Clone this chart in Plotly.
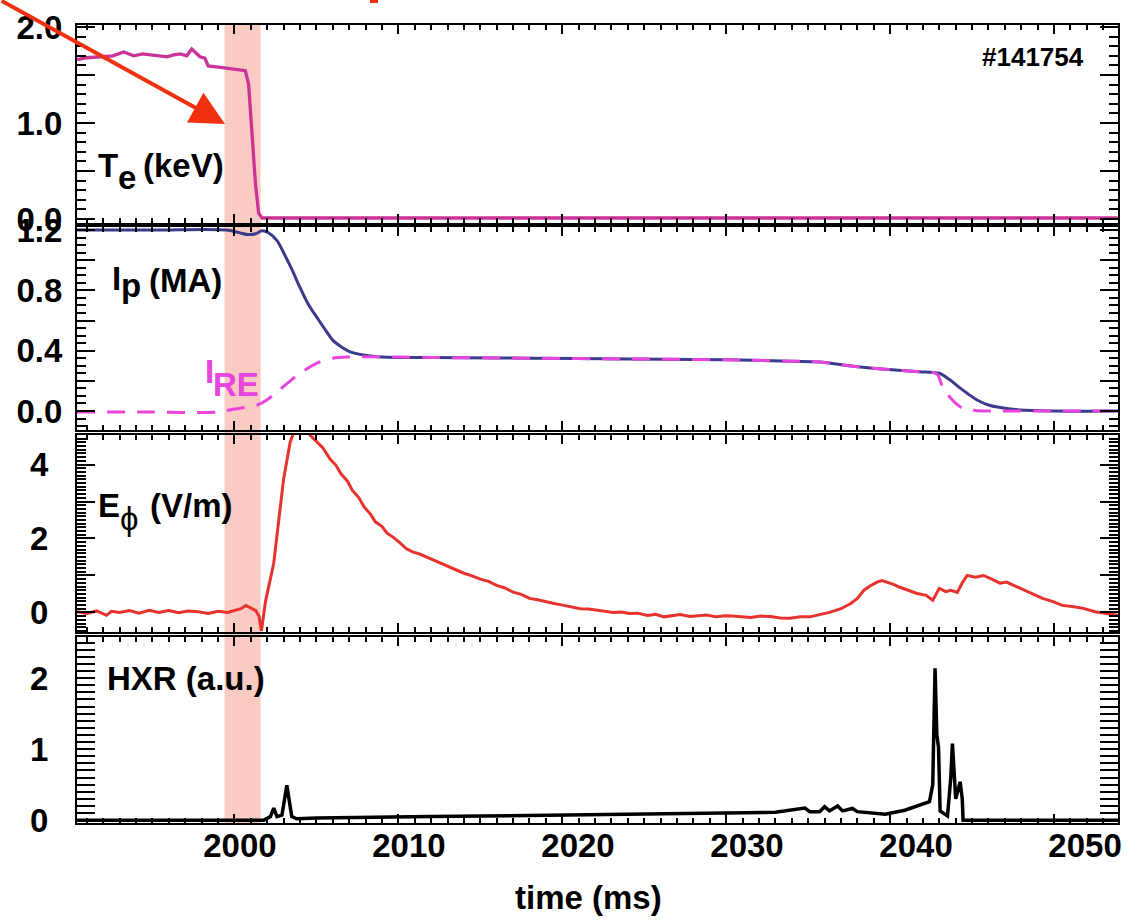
import plotly.graph_objects as go

# ---------------- data ----------------
te_t = [1990.41, 1991.0, 1991.83, 1992.6, 1993.25, 1993.86, 1994.4, 1994.88, 1995.4, 1995.9,
        1996.3, 1996.7, 1997.1, 1997.4, 1997.9, 1998.2, 1998.4, 1998.8, 1999.15, 1999.6,
        1999.96, 2000.3, 2000.67, 2000.87, 2000.98, 2001.14, 2001.28, 2001.48, 2001.69,
        2003.0, 2010.0, 2020.0, 2030.0, 2040.0, 2053.9]
te_v = [1.66, 1.68, 1.69, 1.70, 1.74, 1.70, 1.72, 1.71, 1.70, 1.69,
        1.71, 1.72, 1.70, 1.77, 1.69, 1.675, 1.595, 1.59, 1.58, 1.57,
        1.56, 1.555, 1.545, 1.40, 1.08, 0.73, 0.38, 0.06, 0.01,
        0.01, 0.01, 0.01, 0.01, 0.01, 0.01]

ip_t = [1990.4, 1995.0, 1999.5, 2000.2, 2000.8, 2001.3, 2001.7, 2002.1, 2002.6, 2003.0,
        2003.5, 2004.0, 2004.5, 2005.1, 2005.6, 2006.0, 2006.6, 2007.1, 2008.7, 2012.0,
        2018.0, 2024.0, 2030.0, 2034.0, 2035.7, 2037.5, 2038.8, 2040.5, 2041.8, 2042.6,
        2043.0, 2043.6, 2044.3, 2044.8, 2045.3, 2046.0, 2046.9, 2047.9, 2050.0, 2053.9]
ip_v = [1.20, 1.20, 1.20, 1.185, 1.17, 1.175, 1.195, 1.18, 1.13, 1.05,
        0.94, 0.82, 0.71, 0.61, 0.53, 0.47, 0.42, 0.39, 0.36, 0.355,
        0.35, 0.345, 0.34, 0.33, 0.325, 0.30, 0.285, 0.27, 0.26, 0.255,
        0.25, 0.21, 0.15, 0.11, 0.073, 0.04, 0.02, 0.007, 0.0, 0.0]

ire_t = [1990.4, 1995.0, 1999.0, 2000.0, 2001.4, 2002.0, 2002.6, 2003.3, 2004.0, 2005.1,
         2006.0, 2007.0, 2008.1, 2012.0, 2018.0, 2024.0, 2030.0, 2034.0, 2035.7, 2037.5,
         2038.8, 2040.5, 2041.8, 2042.6, 2042.9, 2043.2, 2043.8, 2044.4, 2045.2, 2045.9,
         2050.0, 2053.9]
ire_v = [-0.007, -0.007, -0.007, 0.013, 0.04, 0.075, 0.126, 0.19, 0.25, 0.32,
         0.35, 0.358, 0.36, 0.355, 0.35, 0.345, 0.34, 0.33, 0.325, 0.30,
         0.285, 0.27, 0.26, 0.255, 0.24, 0.16, 0.073, 0.02, 0.003, 0.0,
         0.0, 0.0]

e_t = [1990.4, 1991.0, 1991.6, 1992.2, 1992.5, 1993.0, 1993.6, 1994.2, 1994.8, 1995.4,
       1996.0, 1996.6, 1997.2, 1997.8, 1998.4, 1999.0, 1999.6, 2000.0, 2000.4, 2000.7,
       2001.0, 2001.3, 2001.5, 2001.65, 2001.9, 2002.4, 2003.0, 2003.4, 2003.8, 2004.2,
       2004.5, 2005.0, 2005.4, 2005.85, 2006.2, 2006.5, 2006.9, 2007.2, 2007.6, 2007.9,
       2008.3, 2008.6, 2009.0, 2009.3, 2009.7, 2010.1, 2010.5, 2010.9, 2011.3, 2011.7,
       2012.2, 2012.6, 2013.0, 2013.3, 2013.7, 2014.0, 2014.5, 2015.0, 2015.5, 2016.0,
       2016.5, 2017.0, 2017.5, 2018.0, 2018.5, 2019.0, 2019.5, 2020.1, 2020.6, 2021.1,
       2021.6, 2022.1, 2022.6, 2023.1, 2023.6, 2024.1, 2024.6, 2025.2, 2025.7, 2026.2,
       2026.7, 2027.2, 2027.8, 2028.3, 2028.8, 2029.4, 2029.9, 2030.4, 2031.0, 2031.5,
       2032.1, 2032.7, 2033.3, 2033.9, 2034.5, 2035.1, 2035.7, 2036.3, 2037.0, 2037.6,
       2038.0, 2038.4, 2038.8, 2039.2, 2039.5, 2039.8, 2040.2, 2040.6, 2041.1, 2041.6,
       2042.2, 2042.6, 2043.0, 2043.4, 2043.7, 2044.1, 2044.4, 2044.7, 2045.2, 2045.7,
       2046.2, 2046.7, 2047.1, 2047.6, 2048.1, 2048.4, 2048.7, 2049.3, 2049.9, 2050.5,
       2051.1, 2051.8, 2052.5, 2053.2, 2053.9]
e_v = [0.02, -0.03, 0.04, -0.08, 0.03, 0.0, 0.05, -0.02, 0.06, 0.0,
       0.05, -0.01, 0.04, 0.02, -0.03, 0.03, 0.0, 0.04, 0.1, 0.19,
       0.12, 0.05, -0.1, -0.5, 0.3, 1.33, 3.6, 4.6, 5.1, 5.1,
       4.85, 4.62, 4.45, 4.14, 3.98, 3.75, 3.55, 3.30, 3.10, 2.86,
       2.66, 2.45, 2.33, 2.15, 2.03, 1.88, 1.72, 1.63, 1.58, 1.50,
       1.40, 1.33, 1.26, 1.18, 1.12, 1.06, 0.99, 0.90, 0.84, 0.73,
       0.66, 0.55, 0.49, 0.38, 0.34, 0.28, 0.24, 0.19, 0.15, 0.10,
       0.09, 0.05, 0.03, 0.0, 0.01, -0.03, -0.02, -0.08, -0.05, -0.12,
       -0.08, -0.06, -0.11, -0.10, -0.07, -0.12, -0.09, -0.10, -0.13, -0.14,
       -0.10, -0.11, -0.15, -0.16, -0.12, -0.12, -0.06, 0.0, 0.10, 0.24,
       0.38, 0.60, 0.72, 0.82, 0.86, 0.82, 0.76, 0.68, 0.60, 0.52,
       0.46, 0.33, 0.65, 0.56, 0.60, 0.54, 0.80, 1.0, 0.95, 1.0,
       0.90, 0.79, 0.82, 0.72, 0.60, 0.56, 0.50, 0.38, 0.30, 0.19,
       0.16, 0.11, 0.02, -0.02, -0.08]

hxr_t = [1990.4, 2001.8, 2002.2, 2002.4, 2002.6, 2002.9, 2003.2, 2003.5, 2003.8, 2005.0,
         2012.0, 2020.0, 2028.0, 2033.0, 2034.8, 2035.1, 2035.7, 2036.0, 2036.3, 2036.8,
         2037.1, 2037.7, 2038.0, 2039.0, 2039.7, 2040.9, 2041.8, 2042.4, 2042.6, 2042.74,
         2042.85, 2042.95, 2043.05, 2043.5, 2043.7, 2043.8, 2044.0, 2044.27, 2044.4, 2044.45,
         2053.9]
hxr_v = [0.0, 0.0, 0.05, 0.17, 0.05, 0.07, 0.49, 0.05, 0.02, 0.03,
         0.05, 0.07, 0.10, 0.11, 0.17, 0.12, 0.12, 0.19, 0.13, 0.20,
         0.13, 0.165, 0.12, 0.10, 0.085, 0.14, 0.21, 0.26, 0.5, 2.14,
         1.2, 1.03, 0.13, 0.06, 0.6, 1.08, 0.3, 0.54, 0.3, 0.0,
         0.0]

x_ticks = [2000, 2010, 2020, 2030, 2040, 2050]
x_labels = ["2000", "2010", "2020", "2030", "2040", "2050"]
te_ticks = [0.0, 0.5, 1.0, 1.5, 2.0]
te_labels = ["0.0", "", "1.0", "", "2.0"]
ip_ticks = [0.0, 0.2, 0.4, 0.6, 0.8, 1.0, 1.2]
ip_labels = ["0.0", "", "0.4", "", "0.8", "", "1.2"]
e_ticks = [0, 1, 2, 3, 4]
e_labels = ["0", "", "2", "", "4"]
hxr_ticks = [0, 0.5, 1, 1.5, 2, 2.5]
hxr_labels = ["0", "", "1", "", "2", ""]

# ---------------- style ----------------
FONT = "Liberation Sans, Arial, Helvetica, sans-serif"
FS = 33
C_TE = "#cc3399"
C_IP = "#3b3b8c"
C_IRE = "#e845e0"
C_E = "#e8322e"
C_HXR = "#000000"

W, H = 1130, 920
ML, MR, MT, MB = 77, 12, 25, 97
PW, PH = W - ML - MR, H - MT - MB


def px(x):
    return (x - ML) / PW


def py(y):
    return (H - MB - y) / PH


fig = go.Figure()
fig.add_trace(go.Scatter(x=te_t, y=te_v, mode="lines", line=dict(color=C_TE, width=3.3),
                         xaxis="x", yaxis="y"))
fig.add_trace(go.Scatter(x=ip_t, y=ip_v, mode="lines", line=dict(color=C_IP, width=3, shape="spline", smoothing=1.0),
                         xaxis="x2", yaxis="y2"))
fig.add_trace(go.Scatter(x=ire_t, y=ire_v, mode="lines",
                         line=dict(color=C_IRE, width=3, dash="18px,12px", shape="spline", smoothing=0.8),
                         xaxis="x2", yaxis="y2"))
fig.add_trace(go.Scatter(x=e_t, y=e_v, mode="lines", line=dict(color=C_E, width=3),
                         xaxis="x3", yaxis="y3"))
fig.add_trace(go.Scatter(x=hxr_t, y=hxr_v, mode="lines", line=dict(color=C_HXR, width=3.5),
                         xaxis="x4", yaxis="y4"))
# empty trace that carries the separately placed time-label axis
fig.add_trace(go.Scatter(x=[], y=[], mode="lines", xaxis="x5", yaxis="y4", hoverinfo="skip"))

xr = [1990.4, 2053.9]          # data axis (tick marks)
xr_lab = [1990.36, 2051.95]    # the printed time labels sit slightly off the tick marks
doms = [[py(223), 1.0], [py(430), py(227)], [py(632), py(435)], [0.0, py(637)]]
TF = dict(family=FONT, size=FS, color="black", weight="bold")

def xax(anchor):
    return dict(range=xr, domain=[0, 1], anchor=anchor, showgrid=False, zeroline=False,
                showline=True, linecolor="black", linewidth=2, mirror="allticks",
                ticks="inside", ticklen=9, tickwidth=2, tickcolor="black",
                tickvals=x_ticks, ticktext=x_labels, showticklabels=False, automargin=False,
                minor=dict(dtick=1, ticklen=5, tickwidth=1.5, tickcolor="black", ticks="inside"))

def yax(dom, rng, tv, tt, mdt, anchor, standoff):
    return dict(range=rng, domain=dom, anchor=anchor, showgrid=False, zeroline=False,
                showline=True, linecolor="black", linewidth=2, mirror="allticks",
                ticks="inside", ticklen=18, tickwidth=2, tickcolor="black",
                tickvals=tv, ticktext=tt, automargin=False,
                minor=dict(dtick=mdt, ticklen=9, tickwidth=1.5, tickcolor="black", ticks="inside"),
                tickfont=TF, ticklabelstandoff=standoff)

fig.update_layout(
    width=W, height=H, margin=dict(l=ML, r=MR, t=MT, b=MB, autoexpand=False),
    paper_bgcolor="white", plot_bgcolor="white", showlegend=False,
    xaxis=xax("y"), xaxis2=xax("y2"), xaxis3=xax("y3"), xaxis4=xax("y4"),
    xaxis5=dict(range=xr_lab, overlaying="x4", anchor="y4", side="bottom", showline=False,
                showgrid=False, zeroline=False, ticks="", tickvals=x_ticks, ticktext=x_labels,
                tickfont=TF, automargin=False, ticklabelstandoff=0),
    yaxis=yax(doms[0], [-0.042, 2.021], te_ticks, te_labels, 0.1, "x", 6),
    yaxis2=yax(doms[1], [-0.126, 1.22], ip_ticks, ip_labels, 0.05, "x2", 6),
    yaxis3=yax(doms[2], [-0.53, 4.8], e_ticks, e_labels, 0.1, "x3", 20),
    yaxis4=yax(doms[3], [-0.04, 2.58], hxr_ticks, hxr_labels, 0.1, "x4", 20),
)

for k in ["xaxis2", "xaxis3", "xaxis4"]:
    fig.layout[k].matches = "x"

# shaded thermal-quench band
fig.add_shape(type="rect", xref="x", yref="paper", x0=1999.4, x1=2001.6, y0=0, y1=1,
              fillcolor="rgba(245,140,120,0.45)", line=dict(width=0), layer="below")
# small red fragment at the top edge
fig.add_shape(type="rect", xref="paper", yref="paper", x0=px(370), x1=px(378), y0=py(3), y1=py(-2),
              fillcolor="#f0300e", line=dict(width=0))

def txt(s, x, y, color="black", size=FS, anchor="left", weight="bold"):
    fig.add_annotation(text=s, xref="paper", yref="paper",
                       x=px(x), y=py(y), xanchor=anchor, yanchor="middle", showarrow=False,
                       font=dict(family=FONT, size=size, color=color, weight=weight))

txt("T", 96, 165)
txt("e", 116, 177)
txt("(keV)", 141, 166)
txt("I", 110, 278)
txt("p", 119, 286)
txt("(MA)", 147, 280)
txt("I", 203, 371, color=C_IRE)
txt("RE", 211, 384, color=C_IRE)
txt("E", 96, 505)
txt("ϕ", 118, 518, weight="normal")
txt("(V/m)", 148, 506)
txt("HXR (a.u.)", 105, 678)
txt("#141754", 1086, 57, size=26, anchor="right")
txt("time (ms)", 588, 897, anchor="center")

# red arrow
fig.add_annotation(text="", xref="paper", yref="paper", x=px(225), y=py(124),
                   ax=-225, ay=-133, showarrow=True, arrowhead=2, arrowsize=1.7,
                   arrowwidth=4, arrowcolor="#f0300e", standoff=0)

fig.write_html("out.html", config={"displayModeBar": False},
               post_script="document.body.style.margin='0px';")
